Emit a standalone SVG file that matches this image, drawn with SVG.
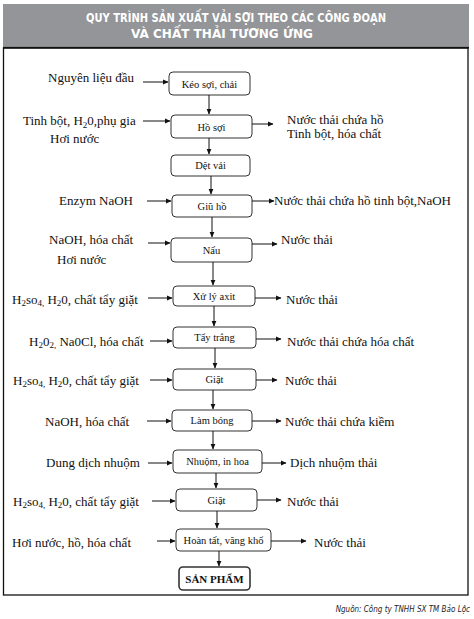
<svg xmlns="http://www.w3.org/2000/svg" width="474" height="619" viewBox="0 0 474 619">
<defs>
<marker id="ah" markerWidth="6" markerHeight="6" refX="5" refY="3" orient="auto" markerUnits="userSpaceOnUse">
<path d="M0,0.6 L5.5,3 L0,5.4 Z" fill="#111"/>
</marker>
<style>
.box{fill:#fff;stroke:#333;stroke-width:1}
.bt{font-family:"Liberation Serif",serif;font-size:10.5px;fill:#111;text-anchor:middle}
.lt{font-family:"Liberation Serif",serif;font-size:13px;fill:#111}
.c line{stroke:#111;stroke-width:1;marker-end:url(#ah)}
.hd{font-family:"DejaVu Sans Condensed","DejaVu Sans",sans-serif;font-stretch:condensed;font-weight:bold;font-size:12px;fill:#fff;text-anchor:middle}
.sb{font-size:9px}
.src{font-family:"DejaVu Sans Condensed","DejaVu Sans",sans-serif;font-stretch:condensed;font-style:italic;font-size:8px;fill:#222;text-anchor:end}
</style>
</defs>
<rect x="0" y="0" width="474" height="619" fill="#fff"/>
<rect x="3" y="4" width="466" height="42" fill="#939598"/>
<text class="hd" x="236" y="21.5" textLength="300" lengthAdjust="spacingAndGlyphs">QUY TRÌNH SẢN XUẤT VẢI SỢI THEO CÁC CÔNG ĐOẠN</text>
<text class="hd" x="222" y="37.5" textLength="182" lengthAdjust="spacingAndGlyphs">VÀ CHẤT THẢI TƯƠNG ỨNG</text>
<line x1="3" y1="47.5" x2="469" y2="47.5" stroke="#111" stroke-width="2"/>
<rect x="3.5" y="48" width="464.5" height="547" fill="none" stroke="#111" stroke-width="1.3"/>

<g id="n1"><rect class="box" x="169" y="72" width="81" height="23" rx="4"/><text class="bt" x="209.5" y="87.5">Kéo sợi, chải</text></g>
<g id="n2"><rect class="box" x="171" y="115" width="81" height="23" rx="4"/><text class="bt" x="211.5" y="130.5">Hồ sợi</text></g>
<g id="n3"><rect class="box" x="171" y="155" width="79" height="21" rx="4"/><text class="bt" x="210.5" y="169">Dệt vải</text></g>
<g id="n4"><rect class="box" x="172" y="195" width="80" height="22" rx="4"/><text class="bt" x="212" y="209.5">Giũ hồ</text></g>
<g id="n5"><rect class="box" x="171" y="238" width="81" height="24" rx="4"/><text class="bt" x="211.5" y="253.5">Nấu</text></g>
<g id="n6"><rect class="box" x="173" y="286" width="82" height="20" rx="4"/><text class="bt" x="214" y="299.5">Xử lý axit</text></g>
<g id="n7"><rect class="box" x="173" y="327" width="83" height="21" rx="4"/><text class="bt" x="214.5" y="341">Tẩy trắng</text></g>
<g id="n8"><rect class="box" x="173" y="369" width="83" height="21" rx="4"/><text class="bt" x="214.5" y="383">Giặt</text></g>
<g id="n9"><rect class="box" x="172" y="410" width="80" height="21" rx="4"/><text class="bt" x="212" y="424">Làm bóng</text></g>
<g id="n10"><rect class="box" x="173" y="450" width="89" height="23" rx="4"/><text class="bt" x="217.5" y="465">Nhuộm, in hoa</text></g>
<g id="n11"><rect class="box" x="176" y="489" width="81" height="22" rx="4"/><text class="bt" x="216.5" y="503.5">Giặt</text></g>
<g id="n12"><rect class="box" x="176" y="529" width="95" height="22" rx="4"/><text class="bt" x="223.5" y="543.5">Hoàn tất, văng khổ</text></g>
<g id="n13"><rect class="box" x="179" y="567" width="71" height="23" rx="4" style="stroke-width:1.6"/><text class="bt" x="214.5" y="582.5" style="font-weight:bold;font-size:11px">SẢN PHẨM</text></g>

<g id="inputs">
<text class="lt" x="48" y="82">Nguyên liệu đầu</text>
<text class="lt" x="23" y="125">Tinh bột, H<tspan class="sb" dy="3">2</tspan><tspan dy="-3">0,phụ gia</tspan></text>
<text class="lt" x="50" y="143">Hơi nước</text>
<text class="lt" x="59" y="205">Enzym NaOH</text>
<text class="lt" x="49" y="244">NaOH, hóa chất</text>
<text class="lt" x="57" y="264">Hơi nước</text>
<text class="lt" x="12" y="304">H<tspan class="sb" dy="2">2</tspan><tspan dy="-2">so</tspan><tspan class="sb" dy="2">4,</tspan><tspan dy="-2"> H</tspan><tspan class="sb" dy="2">2</tspan><tspan dy="-2">0, chất tẩy giặt</tspan></text>
<text class="lt" x="29" y="346">H<tspan class="sb" dy="2">2</tspan><tspan dy="-2">0</tspan><tspan class="sb" dy="2">2,</tspan><tspan dy="-2"> Na0Cl, hóa chất</tspan></text>
<text class="lt" x="13" y="385">H<tspan class="sb" dy="2">2</tspan><tspan dy="-2">so</tspan><tspan class="sb" dy="2">4,</tspan><tspan dy="-2"> H</tspan><tspan class="sb" dy="2">2</tspan><tspan dy="-2">0, chất tẩy giặt</tspan></text>
<text class="lt" x="45" y="426">NaOH, hóa chất</text>
<text class="lt" x="46" y="467">Dung dịch nhuộm</text>
<text class="lt" x="13" y="506">H<tspan class="sb" dy="2">2</tspan><tspan dy="-2">so</tspan><tspan class="sb" dy="2">4,</tspan><tspan dy="-2"> H</tspan><tspan class="sb" dy="2">2</tspan><tspan dy="-2">0, chất tẩy giặt</tspan></text>
<text class="lt" x="12" y="547">Hơi nước, hồ, hóa chất</text>
</g>

<g id="outputs">
<text class="lt" x="287" y="124">Nước thải chứa hồ</text>
<text class="lt" x="287" y="138">Tinh bột, hóa chất</text>
<text class="lt" x="274" y="205">Nước thải chứa hồ tinh bột,NaOH</text>
<text class="lt" x="281" y="244">Nước thải</text>
<text class="lt" x="286" y="304">Nước thải</text>
<text class="lt" x="287" y="346">Nước thải chứa hóa chất</text>
<text class="lt" x="285" y="385">Nước thải</text>
<text class="lt" x="285" y="426">Nước thải chứa kiềm</text>
<text class="lt" x="290" y="467">Dịch nhuộm thải</text>
<text class="lt" x="287" y="506">Nước thải</text>
<text class="lt" x="314" y="547">Nước thải</text>
</g>

<g id="connectors" class="c">
<line x1="143" y1="82" x2="168" y2="82"/>
<line x1="143" y1="121" x2="170" y2="121"/>
<line x1="147" y1="201" x2="171" y2="201"/>
<line x1="148" y1="243" x2="170" y2="243"/>
<line x1="148" y1="298" x2="172" y2="298"/>
<line x1="150" y1="341" x2="172" y2="341"/>
<line x1="150" y1="380" x2="172" y2="380"/>
<line x1="147" y1="421" x2="171" y2="421"/>
<line x1="148" y1="463" x2="172" y2="463"/>
<line x1="152" y1="501" x2="175" y2="501"/>
<line x1="157" y1="541" x2="175" y2="541"/>

<line x1="252" y1="124" x2="273" y2="124"/>
<line x1="252" y1="201" x2="274" y2="201"/>
<line x1="252" y1="244" x2="277" y2="244"/>
<line x1="255" y1="298" x2="281" y2="298"/>
<line x1="256" y1="339" x2="281" y2="339"/>
<line x1="256" y1="380" x2="277" y2="380"/>
<line x1="252" y1="421" x2="281" y2="421"/>
<line x1="262" y1="463" x2="286" y2="463"/>
<line x1="257" y1="500" x2="281" y2="500"/>
<line x1="271" y1="541" x2="306" y2="541"/>

<line x1="209" y1="95" x2="209" y2="114"/>
<line x1="209" y1="138" x2="209" y2="154"/>
<line x1="211" y1="176" x2="211" y2="194"/>
<line x1="212" y1="217" x2="212" y2="237"/>
<line x1="213" y1="262" x2="213" y2="285"/>
<line x1="214" y1="306" x2="214" y2="326"/>
<line x1="215" y1="348" x2="215" y2="368"/>
<line x1="213" y1="390" x2="213" y2="409"/>
<line x1="213" y1="431" x2="213" y2="449"/>
<line x1="216" y1="473" x2="216" y2="488"/>
<line x1="217" y1="511" x2="217" y2="528"/>
<line x1="219" y1="551" x2="219" y2="566"/>
</g>

<text class="src" x="470" y="612">Nguồn: Công ty TNHH SX TM Bảo Lộc</text>
</svg>
